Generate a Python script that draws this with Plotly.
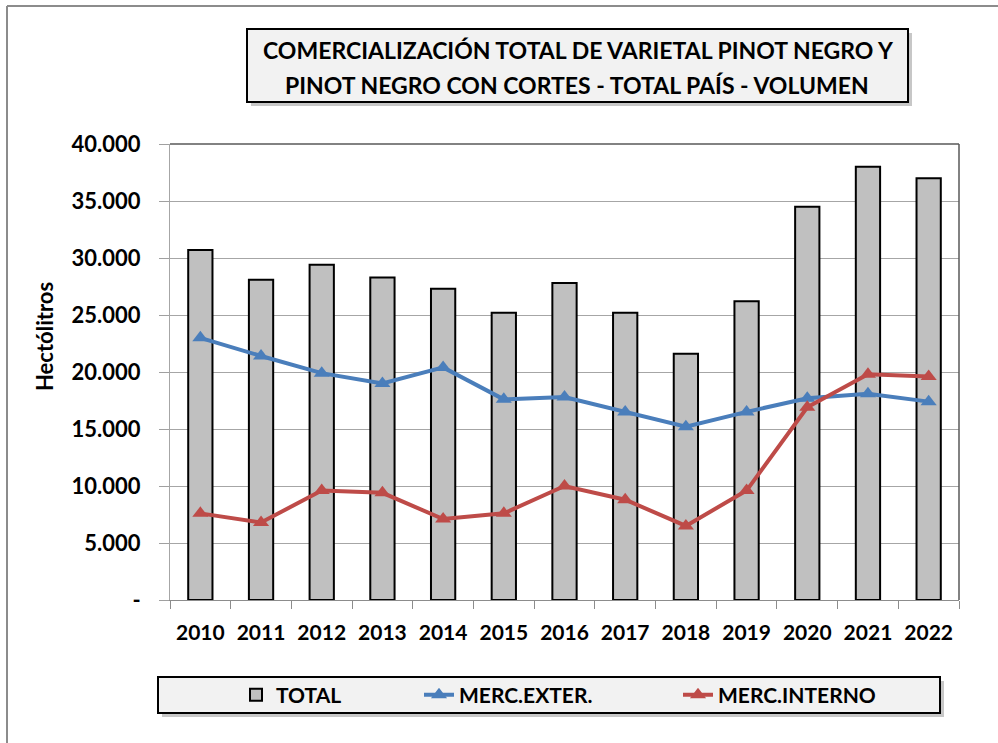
import plotly.graph_objects as go

years = ["2010", "2011", "2012", "2013", "2014", "2015", "2016",
         "2017", "2018", "2019", "2020", "2021", "2022"]
total = [30700, 28100, 29400, 28300, 27300, 25200, 27800,
         25200, 21600, 26200, 34500, 38000, 37000]
merc_exter = [23000, 21400, 19900, 19000, 20400, 17600, 17800,
              16500, 15200, 16500, 17700, 18100, 17400]
merc_interno = [7600, 6800, 9600, 9400, 7100, 7600, 10000,
                8800, 6500, 9600, 16900, 19800, 19600]
y_tickvals = [0, 5000, 10000, 15000, 20000, 25000, 30000, 35000, 40000]
y_ticktext = ["-", "5.000", "10.000", "15.000", "20.000", "25.000",
              "30.000", "35.000", "40.000"]

FONT = "Lato"
W, H = 998, 743
L, R, T, B = 170, 959, 144, 600


def px(x):
    return (x - L) / (R - L)


def py(y):
    return (B - y) / (B - T)


fig = go.Figure()
fig.add_trace(go.Bar(
    x=years, y=total, name="TOTAL", width=0.4, legend="legend",
    marker=dict(color="#c0c0c0", line=dict(color="black", width=2)),
))
fig.add_trace(go.Scatter(
    x=years, y=merc_exter, name="MERC.EXTER.", mode="lines+markers",
    legend="legend2",
    line=dict(color="#4a7ebb", width=4),
    marker=dict(symbol="triangle-up", size=14, color="#4a7ebb"),
))
fig.add_trace(go.Scatter(
    x=years, y=merc_interno, name="MERC.INTERNO", mode="lines+markers",
    legend="legend3",
    line=dict(color="#be4b48", width=4),
    marker=dict(symbol="triangle-up", size=14, color="#be4b48"),
))

shapes = [
    # outer chart frame (left & top visible)
    dict(type="line", xref="paper", yref="paper", x0=px(7), x1=px(7),
         y0=py(6), y1=py(743), line=dict(color="#8c8c8c", width=2)),
    dict(type="line", xref="paper", yref="paper", x0=px(7), x1=px(998),
         y0=py(6), y1=py(6), line=dict(color="#8c8c8c", width=2)),
    # title box shadow + box
    dict(type="rect", xref="paper", yref="paper", x0=px(251), x1=px(912),
         y0=py(106), y1=py(33), fillcolor="rgba(0,0,0,0.22)", line=dict(width=0),
         layer="below"),
    dict(type="rect", xref="paper", yref="paper", x0=px(247), x1=px(908),
         y0=py(102), y1=py(29), fillcolor="#f2f2f2",
         line=dict(color="black", width=2), layer="below"),
    # legend box shadow + box
    dict(type="rect", xref="paper", yref="paper", x0=px(162), x1=px(944),
         y0=py(717), y1=py(681), fillcolor="rgba(0,0,0,0.22)", line=dict(width=0),
         layer="below"),
    dict(type="rect", xref="paper", yref="paper", x0=px(158), x1=px(940),
         y0=py(713), y1=py(677), fillcolor="#f2f2f2",
         line=dict(color="black", width=2), layer="below"),
    # plot area top & right border
    dict(type="line", xref="paper", yref="paper", x0=0, x1=1, y0=1, y1=1,
         line=dict(color="#595959", width=1.5)),
    dict(type="line", xref="paper", yref="paper", x0=1, x1=1, y0=0, y1=1,
         line=dict(color="#595959", width=1.5)),
]

title_font = dict(family=FONT, size=23, color="black", weight="bold")
annotations = [
    dict(xref="paper", yref="paper", x=px(578), y=py(50),
         text="COMERCIALIZACIÓN TOTAL DE VARIETAL PINOT NEGRO Y",
         showarrow=False, font=title_font, xanchor="center", yanchor="middle"),
    dict(xref="paper", yref="paper", x=px(577), y=py(85),
         text="PINOT NEGRO CON CORTES - TOTAL PAÍS - VOLUMEN",
         showarrow=False, font=title_font, xanchor="center", yanchor="middle"),
    dict(xref="paper", yref="paper", x=px(44), y=py(337),
         text="Hectólitros", textangle=-90, showarrow=False,
         font=dict(family=FONT, size=22, color="black", weight="bold"),
         xanchor="center", yanchor="middle"),
]

leg_font = dict(family=FONT, size=21, color="black", weight="bold")


def leg(xs):
    return dict(orientation="h", x=px(xs), y=py(695), xanchor="left",
                yanchor="middle", bgcolor="rgba(0,0,0,0)", font=leg_font,
                itemwidth=30)


fig.update_layout(
    width=W, height=H,
    margin=dict(l=L, r=W - R, t=T, b=H - B, pad=0),
    paper_bgcolor="white", plot_bgcolor="white",
    font=dict(family=FONT, color="black"),
    showlegend=True,
    legend=leg(236),
    legend2=leg(419),
    legend3=leg(678),
    shapes=shapes,
    annotations=annotations,
)
fig.update_xaxes(
    type="category", range=[-0.5, len(years) - 0.5],
    tickson="boundaries", ticks="outside", ticklen=8,
    tickcolor="#8c8c8c", showline=True, linecolor="#8c8c8c", linewidth=1,
    showgrid=False, tickangle=0,
    tickfont=dict(family=FONT, size=21, color="black", weight="bold"),
    ticklabelstandoff=14,
)
fig.update_yaxes(
    range=[0, 40000], tickvals=y_tickvals, ticktext=y_ticktext,
    ticks="outside", ticklen=10, tickcolor="#a0a0a0",
    showgrid=True, gridcolor="#a6a6a6", gridwidth=1,
    showline=True, linecolor="#a6a6a6", linewidth=1, zeroline=False,
    tickfont=dict(family=FONT, size=22, color="black", weight="bold"),
    ticklabelstandoff=14,
)

fig.write_html("out.html", config={"displayModeBar": False},
               post_script="document.body.style.margin='0px';")
